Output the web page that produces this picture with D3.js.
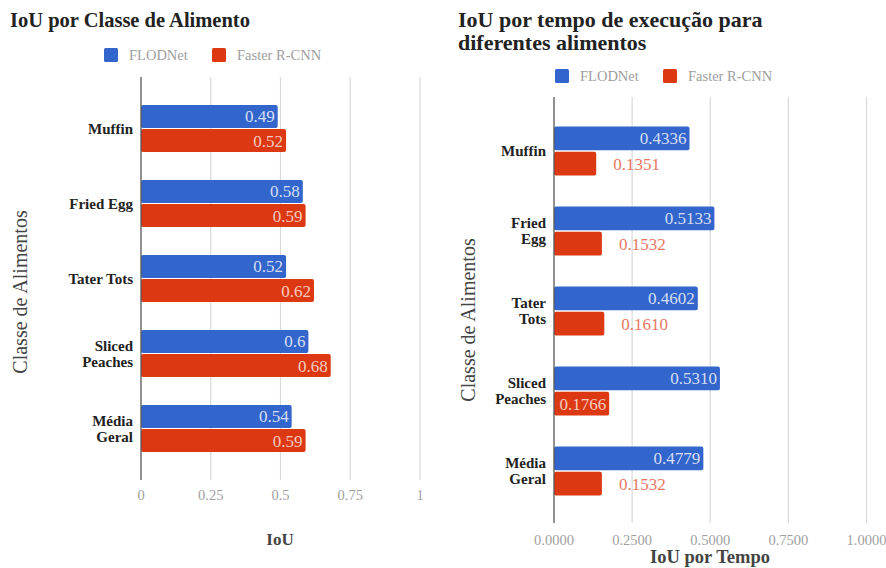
<!DOCTYPE html>
<html>
<head>
<meta charset="utf-8">
<title>IoU charts</title>
<script src="https://cdn.jsdelivr.net/npm/d3@7"></script>
<style>
  body { margin: 0; background: #fff; }
  svg { display: block; font-family: "Liberation Serif", "Times New Roman", serif; }
</style>
</head>
<body>
<svg id="chart" width="886" height="568"></svg>
<script>
// data
const seriesNames = ["FLODNet", "Faster R-CNN"];
const seriesColors = ["#3366cc", "#dc3912"];

const categories = ["Muffin", "Fried Egg", "Tater Tots", "Sliced Peaches", "Média Geral"];
const labelLinesLeft = [["Muffin"], ["Fried Egg"], ["Tater Tots"], ["Sliced", "Peaches"], ["Média", "Geral"]];
const labelLinesRight = [["Muffin"], ["Fried", "Egg"], ["Tater", "Tots"], ["Sliced", "Peaches"], ["Média", "Geral"]];

const iouFlodnet = [0.49, 0.58, 0.52, 0.6, 0.54];
const iouFaster = [0.52, 0.59, 0.62, 0.68, 0.59];

const tempoFlodnet = [0.4336, 0.5133, 0.4602, 0.5310, 0.4779];
const tempoFaster = [0.1351, 0.1532, 0.1610, 0.1766, 0.1532];

const ticksIoU = [0, 0.25, 0.5, 0.75, 1];
const ticksTempo = [0, 0.25, 0.5, 0.75, 1];

const svg = d3.select("#chart");

function drawChart(cfg) {
  const g = svg.append("g");

  // title
  const title = g.append("text")
    .attr("x", cfg.titleX).attr("y", cfg.titleY)
    .attr("font-size", cfg.titleSize).attr("font-weight", "bold").attr("fill", "#222");
  cfg.title.forEach((line, i) => {
    title.append("tspan").attr("x", cfg.titleX).attr("dy", i === 0 ? 0 : 23).text(line);
  });

  // legend
  cfg.legend.forEach((lx, i) => {
    g.append("rect")
      .attr("x", lx).attr("y", cfg.legendY - 7)
      .attr("width", 14).attr("height", 14).attr("rx", 1.5)
      .attr("fill", seriesColors[i]);
    g.append("text")
      .attr("x", lx + 25).attr("y", cfg.legendY + 5)
      .attr("font-size", 14.5).attr("fill", "#9e9e9e")
      .text(seriesNames[i]);
  });

  const x = d3.scaleLinear().domain([0, 1]).range([cfg.x0, cfg.x1]);
  const y = d3.scaleBand().domain(categories).range(cfg.bandRange)
    .paddingInner(cfg.padInner).paddingOuter(cfg.padInner / 2);
  const ySub = d3.scaleBand().domain(seriesNames).range([0, y.bandwidth()]).paddingInner(0.05);

  // grid lines
  g.append("g").selectAll("line")
    .data(cfg.ticks.slice(1))
    .join("line")
    .attr("x1", d => x(d)).attr("x2", d => x(d))
    .attr("y1", cfg.plotTop).attr("y2", cfg.plotBottom)
    .attr("stroke", "#d9d9d9").attr("stroke-width", 1.2);

  // tick labels
  g.append("g").selectAll("text")
    .data(cfg.ticks)
    .join("text")
    .attr("x", d => x(d)).attr("y", cfg.tickY)
    .attr("text-anchor", "middle")
    .attr("font-size", 14.5).attr("fill", "#a0a0a0")
    .text(cfg.tickFormat);

  // bars
  const rows = categories.map((c, i) => cfg.values.map((v, s) => ({ cat: c, i, s, v: v[i] }))).flat();

  g.append("g").selectAll("rect")
    .data(rows)
    .join("rect")
    .attr("x", x(0))
    .attr("y", d => y(d.cat) + ySub(seriesNames[d.s]))
    .attr("width", d => x(d.v) - x(0))
    .attr("height", ySub.bandwidth())
    .attr("rx", 2)
    .attr("fill", d => seriesColors[d.s]);

  // value labels
  const labels = g.append("g").selectAll("text")
    .data(rows)
    .join("text")
    .attr("y", d => y(d.cat) + ySub(seriesNames[d.s]) + ySub.bandwidth() / 2)
    .attr("dy", "0.35em")
    .attr("font-size", 17)
    .text(d => cfg.valueFormat(d.v));

  labels.each(function (d) {
    const w = this.getComputedTextLength();
    const barW = x(d.v) - x(0);
    const t = d3.select(this);
    if (w + 6 <= barW) {
      t.attr("x", x(d.v) - 3).attr("text-anchor", "end")
        .attr("fill", d.s === 0 ? "#d6def3" : "#f6cbbf");
    } else {
      t.attr("x", x(d.v) + 17).attr("text-anchor", "start")
        .attr("fill", "#e8775f");
    }
  });

  // baseline
  g.append("line")
    .attr("x1", x(0)).attr("x2", x(0))
    .attr("y1", cfg.plotTop).attr("y2", cfg.plotBottom)
    .attr("stroke", "#555").attr("stroke-width", 1.3);

  // category labels
  const catG = g.append("g").selectAll("text")
    .data(categories)
    .join("text")
    .attr("text-anchor", "end")
    .attr("font-size", 15).attr("font-weight", "bold").attr("fill", "#222");
  catG.each(function (c, i) {
    const lines = cfg.labelLines[i];
    const cy = y(c) + y.bandwidth() / 2;
    const t = d3.select(this);
    lines.forEach((line, k) => {
      t.append("tspan")
        .attr("x", cfg.x0 - 8)
        .attr("y", cy + (k - (lines.length - 1) / 2) * 16)
        .attr("dy", "0.35em")
        .text(line);
    });
  });

  // axis titles
  g.append("text")
    .attr("transform", `translate(${cfg.yTitleX},${cfg.yTitleY}) rotate(-90)`)
    .attr("text-anchor", "middle")
    .attr("font-size", 20).attr("fill", "#444")
    .text("Classe de Alimentos");

  g.append("text")
    .attr("x", cfg.xTitleX).attr("y", cfg.xTitleY)
    .attr("text-anchor", "middle")
    .attr("font-size", cfg.xTitleSize).attr("font-weight", "bold").attr("fill", "#444")
    .text(cfg.xTitle);
}

drawChart({
  title: ["IoU por Classe de Alimento"], titleSize: 20.5,
  titleX: 10, titleY: 27,
  legend: [104, 212], legendY: 55,
  x0: 141, x1: 420,
  bandRange: [91, 466], padInner: 0.373,
  plotTop: 77, plotBottom: 480,
  ticks: ticksIoU, tickY: 500, tickFormat: d => String(d),
  values: [iouFlodnet, iouFaster], valueFormat: d => String(d),
  labelLines: labelLinesLeft,
  yTitleX: 27, yTitleY: 292,
  xTitle: "IoU", xTitleSize: 17, xTitleX: 280, xTitleY: 545
});

drawChart({
  title: ["IoU por tempo de execução para", "diferentes alimentos"], titleSize: 22,
  titleX: 458, titleY: 27,
  legend: [555, 663], legendY: 76,
  x0: 554, x1: 866.5,
  bandRange: [111, 511], padInner: 0.3875,
  plotTop: 97, plotBottom: 523,
  ticks: ticksTempo, tickY: 545, tickFormat: d3.format(".4f"),
  values: [tempoFlodnet, tempoFaster], valueFormat: d3.format(".4f"),
  labelLines: labelLinesRight,
  yTitleX: 475, yTitleY: 320,
  xTitle: "IoU por Tempo", xTitleSize: 18.5, xTitleX: 710, xTitleY: 563
});
</script>
</body>
</html>
